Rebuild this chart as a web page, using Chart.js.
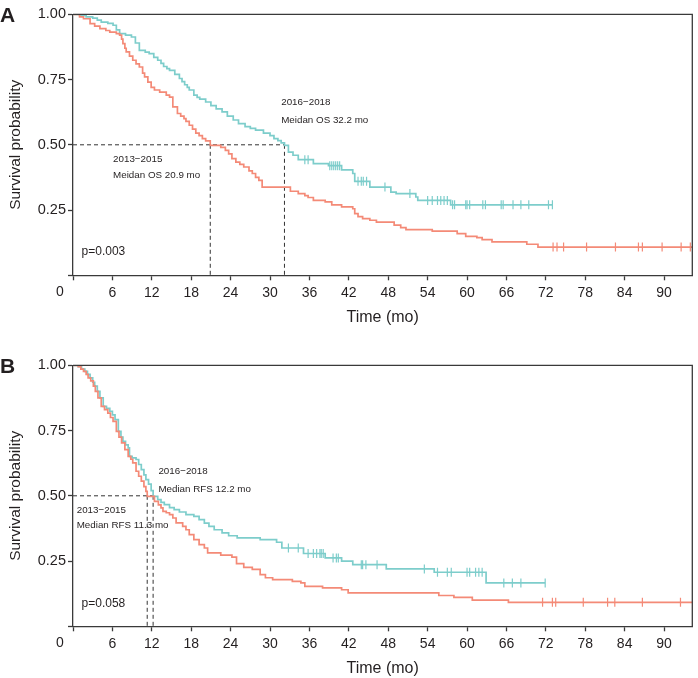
<!DOCTYPE html>
<html lang="en">
<head>
<meta charset="UTF-8">
<title>Survival by period: OS and RFS</title>
<script src="https://cdn.jsdelivr.net/npm/chart.js"></script>
<style>
  html, body { margin: 0; padding: 0; background: #fff; }
  #wrap { position: relative; width: 698px; height: 678px; overflow: hidden; }
  canvas { position: absolute; left: 0; }
  #osChart { top: 0; }
  #rfsChart { top: 351px; }
</style>
</head>
<body>
<div id="wrap">
  <canvas id="osChart" width="698" height="327"></canvas>
  <canvas id="rfsChart" width="698" height="327"></canvas>
</div>
<script>
// ---- data (months / survival probability) ----
const groups = ['2013\u22122015', '2016\u22122018'];

// Panel A: overall survival
const osTime1315 = [0, 1.0, 1.6, 2.6, 3.3, 4.1, 5.0, 5.6, 6.6, 7.1, 7.4, 7.6, 7.9, 8.1, 8.6, 9.1, 9.6, 10.1, 10.6, 10.9, 11.4, 11.9, 12.4, 13.2, 14.2, 14.7, 15.2, 15.9, 16.4, 16.9, 17.2, 17.7, 18.2, 18.7, 19.2, 19.7, 20.2, 20.9, 22.5, 23.2, 23.7, 24.2, 24.8, 25.4, 26.0, 26.8, 27.3, 27.8, 28.3, 28.8, 33.1, 34.3, 35.3, 35.8, 36.6, 38.4, 39.4, 40.9, 42.6, 42.9, 43.4, 44.1, 45.2, 46.2, 48.9, 49.9, 50.7, 54.7, 58.5, 59.8, 61.5, 62.3, 63.8, 69.1, 70.8, 94.3];
const osSurv1315 = [1, 0.99, 0.983, 0.964, 0.955, 0.945, 0.938, 0.932, 0.926, 0.92, 0.905, 0.888, 0.87, 0.856, 0.84, 0.824, 0.81, 0.798, 0.775, 0.76, 0.74, 0.72, 0.71, 0.702, 0.69, 0.683, 0.645, 0.62, 0.61, 0.6, 0.59, 0.575, 0.56, 0.545, 0.535, 0.524, 0.515, 0.498, 0.49, 0.479, 0.465, 0.447, 0.434, 0.425, 0.415, 0.4, 0.39, 0.375, 0.364, 0.338, 0.322, 0.313, 0.305, 0.298, 0.287, 0.281, 0.27, 0.262, 0.255, 0.236, 0.225, 0.217, 0.211, 0.204, 0.192, 0.183, 0.175, 0.169, 0.16, 0.149, 0.144, 0.137, 0.128, 0.119, 0.108, 0.108];
const osCens1315 = [73.1, 73.7, 74.7, 78.2, 82.6, 86.1, 86.7, 89.7, 92.6, 94.0];

const osTime1618 = [0, 1.0, 2.0, 3.0, 3.7, 4.3, 5.3, 6.1, 6.6, 7.1, 8.0, 8.9, 9.5, 10.1, 11.0, 11.6, 12.3, 12.9, 13.4, 13.8, 14.3, 14.7, 15.5, 16.2, 16.6, 17.0, 17.4, 17.7, 18.4, 18.9, 19.3, 20.2, 21.0, 21.8, 22.7, 23.5, 24.4, 25.2, 26.2, 27.0, 27.8, 29.0, 30.0, 30.6, 31.2, 31.7, 32.2, 32.8, 33.5, 34.3, 36.6, 38.9, 40.9, 42.6, 42.9, 45.2, 48.4, 49.2, 52.2, 52.5, 57.5, 73.0];
const osSurv1618 = [1, 0.996, 0.99, 0.985, 0.978, 0.97, 0.965, 0.958, 0.94, 0.926, 0.92, 0.913, 0.89, 0.862, 0.855, 0.849, 0.835, 0.824, 0.812, 0.8, 0.792, 0.785, 0.77, 0.754, 0.742, 0.73, 0.72, 0.71, 0.69, 0.682, 0.675, 0.664, 0.65, 0.638, 0.626, 0.61, 0.595, 0.581, 0.57, 0.563, 0.556, 0.545, 0.535, 0.524, 0.516, 0.507, 0.498, 0.472, 0.46, 0.443, 0.428, 0.42, 0.404, 0.39, 0.36, 0.338, 0.319, 0.313, 0.3, 0.287, 0.27, 0.27];
const osCens1618 = [35.3, 35.8, 39.1, 39.4, 39.7, 40.0, 40.3, 40.6, 43.4, 43.9, 44.2, 44.7, 47.5, 51.3, 54.0, 54.7, 55.5, 56.0, 56.5, 57.0, 57.8, 58.1, 59.8, 60.0, 60.4, 62.4, 62.8, 65.2, 65.5, 67.0, 68.2, 69.4, 72.4, 73.0];

const osMedian = [20.9, 32.2];

// Panel B: recurrence-free survival
const rfsTime1315 = [0, 0.8, 1.2, 1.6, 2.0, 2.3, 2.7, 3.1, 3.4, 3.8, 4.3, 4.8, 5.3, 5.7, 6.1, 6.6, 7.0, 7.4, 7.9, 8.4, 8.8, 9.1, 9.6, 10.0, 10.4, 10.8, 11.1, 11.3, 12.4, 13.0, 13.4, 13.7, 14.2, 14.7, 15.2, 15.7, 16.2, 16.7, 17.2, 17.7, 18.4, 19.2, 20.0, 20.5, 22.5, 24.2, 24.9, 26.0, 27.3, 28.5, 29.3, 30.4, 33.4, 34.7, 35.3, 38.0, 40.9, 41.9, 55.7, 58.0, 60.8, 66.3, 94.3];
const rfsSurv1315 = [1, 0.995, 0.985, 0.977, 0.965, 0.952, 0.94, 0.92, 0.9, 0.875, 0.843, 0.83, 0.817, 0.8, 0.785, 0.747, 0.725, 0.703, 0.677, 0.651, 0.64, 0.626, 0.594, 0.575, 0.556, 0.535, 0.517, 0.498, 0.479, 0.465, 0.454, 0.44, 0.435, 0.428, 0.415, 0.396, 0.396, 0.383, 0.37, 0.351, 0.332, 0.313, 0.3, 0.281, 0.273, 0.265, 0.24, 0.226, 0.218, 0.198, 0.186, 0.179, 0.172, 0.166, 0.153, 0.147, 0.14, 0.128, 0.118, 0.111, 0.1, 0.092, 0.092];
const rfsCens1315 = [71.5, 73.0, 73.5, 77.7, 81.4, 82.5, 86.7, 92.5];

const rfsTime1618 = [0, 0.8, 1.3, 1.8, 2.2, 2.6, 3.0, 3.3, 3.7, 4.1, 4.6, 5.1, 5.6, 6.0, 6.4, 6.9, 7.3, 7.6, 8.0, 8.4, 8.6, 9.0, 9.6, 10.0, 10.4, 10.8, 11.1, 11.5, 11.9, 12.2, 12.9, 13.4, 13.9, 14.7, 15.4, 16.2, 17.2, 18.4, 19.2, 20.0, 20.7, 21.5, 22.7, 23.7, 25.0, 28.5, 31.0, 31.8, 35.1, 38.4, 40.9, 42.6, 47.7, 55.0, 62.9, 71.9];
const rfsSurv1618 = [1, 0.995, 0.985, 0.977, 0.965, 0.952, 0.935, 0.92, 0.9, 0.875, 0.843, 0.835, 0.824, 0.81, 0.792, 0.747, 0.725, 0.709, 0.695, 0.684, 0.651, 0.645, 0.639, 0.62, 0.6, 0.58, 0.562, 0.545, 0.52, 0.498, 0.485, 0.475, 0.466, 0.455, 0.447, 0.438, 0.428, 0.421, 0.409, 0.395, 0.383, 0.37, 0.358, 0.347, 0.339, 0.332, 0.322, 0.3, 0.279, 0.262, 0.25, 0.236, 0.22, 0.207, 0.166, 0.166];
const rfsCens1618 = [32.8, 34.3, 35.8, 36.6, 37.1, 37.6, 37.8, 38.1, 39.6, 40.1, 40.4, 43.9, 44.1, 44.6, 46.3, 53.5, 55.5, 57.0, 57.6, 60.0, 60.4, 61.3, 61.8, 62.3, 65.6, 66.9, 68.2, 71.9];

const rfsMedian = [11.3, 12.2];

// ---- styling ----
const salmon = '#F48A77';
const teal = '#7DCDCB';
const axisColor = '#3a3a3a';
const textColor = '#231f20';
const fontFamily = '"Liberation Sans", Arial, Helvetica, sans-serif';
Chart.defaults.font.family = fontFamily;
Chart.defaults.color = textColor;

function curve(times, surv) {
  return times.map((t, i) => ({ x: t, y: surv[i] }));
}
// value of the step curve at time t (for placing censor ticks)
function survAt(times, surv, t) {
  let s = surv[0];
  for (let i = 0; i < times.length; i++) if (times[i] <= t) s = surv[i];
  return s;
}
function censors(times, surv, cens) {
  return cens.map(t => ({ x: t, y: survAt(times, surv, t) }));
}

const panelDecor = {
  id: 'panelDecor',
  afterDatasetsDraw(chart, args, o) {
    const { ctx, chartArea: a, scales: { x, y } } = chart;
    ctx.save();
    // box (top and right edges)
    ctx.strokeStyle = axisColor;
    ctx.lineWidth = 1.3;
    ctx.beginPath();
    ctx.moveTo(a.left, a.top);
    ctx.lineTo(a.right, a.top);
    ctx.lineTo(a.right, a.bottom);
    ctx.stroke();

    ctx.fillStyle = textColor;
    // panel letter
    ctx.font = 'bold 21px ' + fontFamily;
    ctx.textAlign = 'left';
    ctx.textBaseline = 'alphabetic';
    ctx.fillText(o.letter, 0, 21.7);

    // "0" at the origin, set off to the left
    ctx.font = '14px ' + fontFamily;
    ctx.textAlign = 'center';
    ctx.textBaseline = 'top';
    ctx.fillText('0', a.left - 13, a.bottom + 10);

    // annotations
    ctx.textAlign = 'left';
    ctx.textBaseline = 'middle';
    ctx.font = '9.8px ' + fontFamily;
    o.notes.forEach(n => {
      ctx.fillText(n.text, x.getPixelForValue(n.t), y.getPixelForValue(n.s));
    });
    ctx.font = '12px ' + fontFamily;
    ctx.fillText(o.p.text, x.getPixelForValue(o.p.t), y.getPixelForValue(o.p.s));
    ctx.restore();
  }
};

function makeChart(id, d) {
  const hiMed = Math.max(...d.median);
  const dash = (pts) => ({
    type: 'scatter', data: pts, showLine: true, borderColor: '#333', borderWidth: 1,
    borderDash: [4, 3], pointRadius: 0, order: 3
  });
  const line = (times, surv, color) => ({
    type: 'scatter', data: curve(times, surv), showLine: true, stepped: true,
    borderColor: color, borderWidth: 1.7, pointRadius: 0, order: 2
  });
  const marks = (times, surv, cens, color) => ({
    type: 'scatter', data: censors(times, surv, cens), showLine: false,
    pointStyle: 'line', rotation: 90, pointRadius: 4.5, borderColor: color,
    borderWidth: 1.2, order: 1
  });

  return new Chart(document.getElementById(id), {
    type: 'scatter',
    data: {
      datasets: [
        dash([{ x: 0, y: 0.5 }, { x: hiMed, y: 0.5 }]),
        dash([{ x: d.median[0], y: 0.5 }, { x: d.median[0], y: 0 }]),
        dash([{ x: d.median[1], y: 0.5 }, { x: d.median[1], y: 0 }]),
        line(d.t1, d.s1, salmon),
        line(d.t2, d.s2, teal),
        marks(d.t1, d.s1, d.c1, salmon),
        marks(d.t2, d.s2, d.c2, teal)
      ]
    },
    options: {
      responsive: false,
      animation: false,
      layout: { padding: { top: 14.3, right: 1, bottom: 0, left: 0 } },
      plugins: {
        legend: { display: false },
        tooltip: { enabled: false },
        panelDecor: d.decor
      },
      scales: {
        x: {
          type: 'linear', min: 0, max: 94.3,
          afterFit: s => { s.height = 51.7; s.paddingLeft = 0; s.paddingRight = 0; },
          border: { display: true, color: axisColor, width: 1.3 },
          grid: { drawOnChartArea: false, drawTicks: true, tickLength: 5, tickColor: axisColor, tickWidth: 1.3 },
          ticks: {
            stepSize: 6, includeBounds: false, autoSkip: false, maxRotation: 0, padding: 4,
            color: textColor, font: { size: 14 },
            callback: v => (v === 0 ? '' : v)
          },
          title: { display: true, text: 'Time (mo)', color: textColor, font: { size: 16 }, padding: { top: 0, bottom: 0 } }
        },
        y: {
          type: 'linear', min: 0, max: 1,
          afterFit: s => { s.width = 73; },
          border: { display: true, color: axisColor, width: 1.3 },
          grid: { drawOnChartArea: false, drawTicks: true, tickLength: 5, tickColor: axisColor, tickWidth: 1.3 },
          ticks: {
            stepSize: 0.25, padding: 2, color: textColor, font: { size: 14.5 },
            callback: v => (v === 0 ? '' : v.toFixed(2))
          },
          title: { display: true, text: 'Survival probability', color: textColor, font: { size: 15.5 }, padding: { top: 6, bottom: 0 } }
        }
      }
    },
    plugins: [panelDecor]
  });
}

makeChart('osChart', {
  t1: osTime1315, s1: osSurv1315, c1: osCens1315,
  t2: osTime1618, s2: osSurv1618, c2: osCens1618,
  median: osMedian,
  decor: {
    letter: 'A',
    notes: [
      { text: groups[1], t: 31.7, s: 0.662 },
      { text: 'Meidan OS ' + osMedian[1] + ' mo', t: 31.7, s: 0.592 },
      { text: groups[0], t: 6.1, s: 0.445 },
      { text: 'Meidan OS ' + osMedian[0] + ' mo', t: 6.1, s: 0.384 }
    ],
    p: { text: 'p=0.003', t: 1.3, s: 0.09 }
  }
});

makeChart('rfsChart', {
  t1: rfsTime1315, s1: rfsSurv1315, c1: rfsCens1315,
  t2: rfsTime1618, s2: rfsSurv1618, c2: rfsCens1618,
  median: rfsMedian,
  decor: {
    letter: 'B',
    notes: [
      { text: groups[1], t: 13.0, s: 0.593 },
      { text: 'Median RFS ' + rfsMedian[1] + ' mo', t: 13.0, s: 0.526 },
      { text: groups[0], t: 0.56, s: 0.443 },
      { text: 'Median RFS ' + rfsMedian[0] + ' mo', t: 0.56, s: 0.388 }
    ],
    p: { text: 'p=0.058', t: 1.3, s: 0.087 }
  }
});
</script>
</body>
</html>
